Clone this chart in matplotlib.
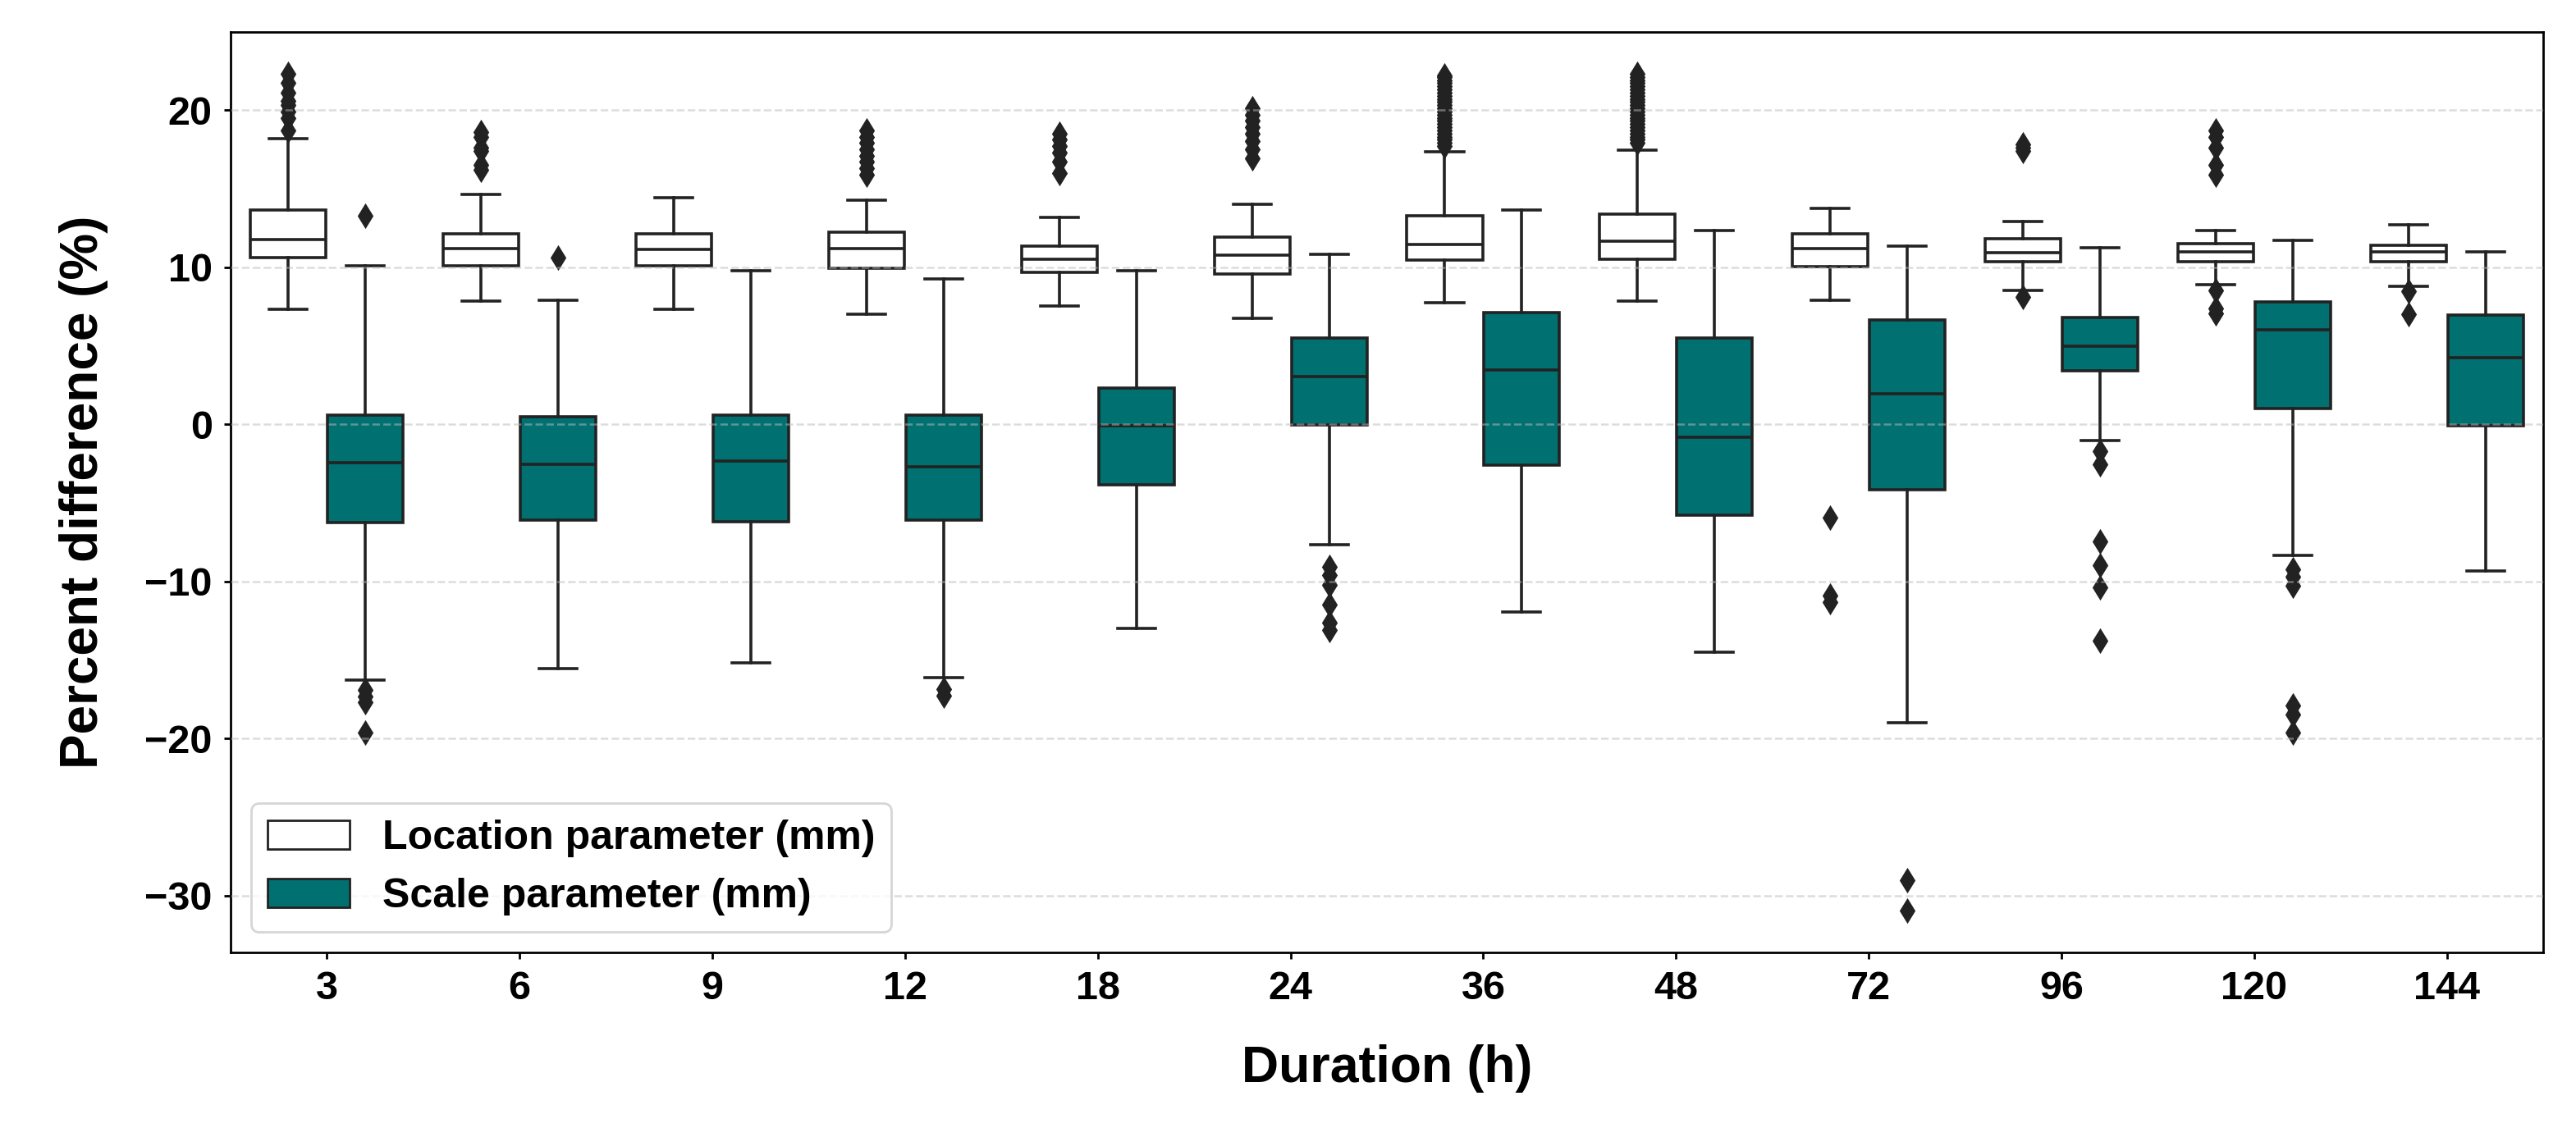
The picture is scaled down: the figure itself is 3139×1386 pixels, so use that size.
import numpy as np
import matplotlib
matplotlib.use("Agg")
import matplotlib.pyplot as plt
from matplotlib.patches import Patch

plt.rcParams["font.family"] = ["Liberation Sans", "DejaVu Sans"]
plt.rcParams["font.weight"] = "bold"

durations = ["3", "6", "9", "12", "18", "24", "36", "48", "72", "96", "120", "144"]

# Location parameter (mm) - box statistics
loc_q1 = [10.6, 10.1, 10.07, 9.95, 9.69, 9.57, 10.45, 10.49, 10.02, 10.34, 10.34, 10.34]
loc_med = [11.74, 11.2, 11.13, 11.2, 10.52, 10.75, 11.44, 11.66, 11.17, 10.94, 10.99, 10.99]
loc_q3 = [13.64, 12.12, 12.12, 12.2, 11.36, 11.9, 13.26, 13.37, 12.1, 11.82, 11.5, 11.4]
loc_lo = [7.29, 7.86, 7.33, 6.99, 7.52, 6.76, 7.71, 7.86, 7.9, 8.54, 8.86, 8.77]
loc_hi = [18.16, 14.63, 14.44, 14.25, 13.15, 14.02, 17.33, 17.44, 13.76, 12.88, 12.33, 12.7]
loc_fliers = [
    [18.7, 19.5, 19.9, 20.3, 20.6, 21.1, 21.7, 22.3],
    [16.2, 16.5, 17.4, 17.6, 18.3, 18.6],
    [],
    [15.9, 16.3, 16.7, 17.1, 17.5, 17.9, 18.3, 18.7],
    [16.0, 16.7, 17.3, 17.7, 18.1, 18.5],
    [16.9, 17.5, 18.0, 18.5, 18.9, 19.3, 19.7, 20.1],
    [17.7, 17.9, 18.1, 18.3, 18.5, 18.7, 18.9, 19.1, 19.3, 19.5, 19.7, 19.9,
     20.1, 20.3, 20.5, 20.7, 20.9, 21.1, 21.3, 21.5, 21.7, 21.9, 22.1, 22.2],
    [17.9, 18.1, 18.3, 18.5, 18.7, 18.9, 19.1, 19.3, 19.5, 19.7, 19.9, 20.1,
     20.3, 20.5, 20.7, 20.9, 21.1, 21.3, 21.5, 21.7, 21.9, 22.1, 22.3],
    [-5.95, -10.9, -11.3],
    [17.4, 17.6, 17.8, 8.1],
    [15.9, 16.5, 17.6, 18.3, 18.7, 8.54, 7.39, 7.06],
    [8.45, 7.02],
]

# Scale parameter (mm)
scl_q1 = [-6.27, -6.12, -6.19, -6.12, -3.84, -0.04, -2.62, -5.78, -4.16, 3.42, 1.02, -0.09]
scl_med = [-2.43, -2.55, -2.36, -2.7, -0.08, 3.04, 3.46, -0.84, 1.94, 4.99, 6.0, 4.25]
scl_q3 = [0.6, 0.49, 0.6, 0.6, 2.32, 5.51, 7.1, 5.47, 6.65, 6.79, 7.76, 6.97]
scl_lo = [-16.3, -15.54, -15.16, -16.1, -13.0, -7.64, -11.93, -14.48, -19.0, -1.06, -8.36, -9.33]
scl_hi = [10.1, 7.9, 9.76, 9.23, 9.76, 10.83, 13.64, 12.31, 11.36, 11.22, 11.68, 10.99]
scl_fliers = [
    [13.26, -16.9, -17.3, -17.7, -19.6],
    [10.6],
    [],
    [-16.87, -17.25],
    [],
    [-9.1, -9.6, -10.2, -11.5, -12.6, -13.1],
    [],
    [],
    [-29.0, -30.95],
    [-1.7, -2.54, -7.48, -8.96, -10.39, -13.76],
    [-9.23, -9.7, -10.3, -17.9, -18.47, -19.6],
    [],
]

line_gray = "#222222"
teal = "#007070"


def make_stats(q1, med, q3, lo, hi, fliers):
    stats = []
    for i in range(len(q1)):
        stats.append({
            "q1": q1[i], "med": med[i], "q3": q3[i],
            "whislo": lo[i], "whishi": hi[i],
            "fliers": np.array(fliers[i]),
        })
    return stats


def draw_group(ax, stats, positions, facecolor):
    props = {"color": line_gray, "linewidth": 1.3}
    ax.bxp(
        stats,
        positions=positions,
        widths=0.392,
        patch_artist=True,
        boxprops={"facecolor": facecolor, "edgecolor": line_gray, "linewidth": 1.3},
        medianprops=props,
        whiskerprops=props,
        capprops=props,
        flierprops={"marker": "d", "markerfacecolor": line_gray,
                    "markeredgecolor": line_gray, "markersize": 6.5, "linestyle": "none"},
        capwidths=0.196,
        manage_ticks=False,
        zorder=2,
    )


fig, ax = plt.subplots(figsize=(15.695, 6.93), dpi=200)
fig.subplots_adjust(left=0.0895, right=0.9873, top=0.9719, bottom=0.1623)

x = np.arange(len(durations))
draw_group(ax, make_stats(loc_q1, loc_med, loc_q3, loc_lo, loc_hi, loc_fliers), x - 0.2, "white")
draw_group(ax, make_stats(scl_q1, scl_med, scl_q3, scl_lo, scl_hi, scl_fliers), x + 0.2, teal)

ax.set_xlim(-0.5, len(durations) - 0.5)
ax.set_xticks(x)
ax.set_xticklabels(durations)
ax.set_yticks([-30, -20, -10, 0, 10, 20])
ax.tick_params(axis="both", labelsize=17.5, length=3, width=1, pad=5, colors="black")
for lbl in ax.get_xticklabels() + ax.get_yticklabels():
    lbl.set_fontweight("bold")

# grid sits on top of the boxes, faint
ax.set_axisbelow(False)
ax.yaxis.grid(True, linestyle="--", color="#bbbbbb", linewidth=0.9, alpha=0.5)
for sp in ax.spines.values():
    sp.set_color("black")
    sp.set_linewidth(1.0)

ax.set_xlabel("Duration (h)", fontsize=22.5, fontweight="bold", labelpad=16)
ax.set_ylabel("Percent difference (%)", fontsize=23, fontweight="bold", labelpad=16)

handles = [
    Patch(facecolor="white", edgecolor=line_gray, linewidth=1.0, label="Location parameter (mm)"),
    Patch(facecolor=teal, edgecolor=line_gray, linewidth=1.0, label="Scale parameter (mm)"),
]
leg = ax.legend(handles=handles, loc="lower left", frameon=True,
                prop={"weight": "bold", "size": 18})
leg.get_frame().set_edgecolor("#cccccc")

fig.savefig("out.png", dpi=200)
